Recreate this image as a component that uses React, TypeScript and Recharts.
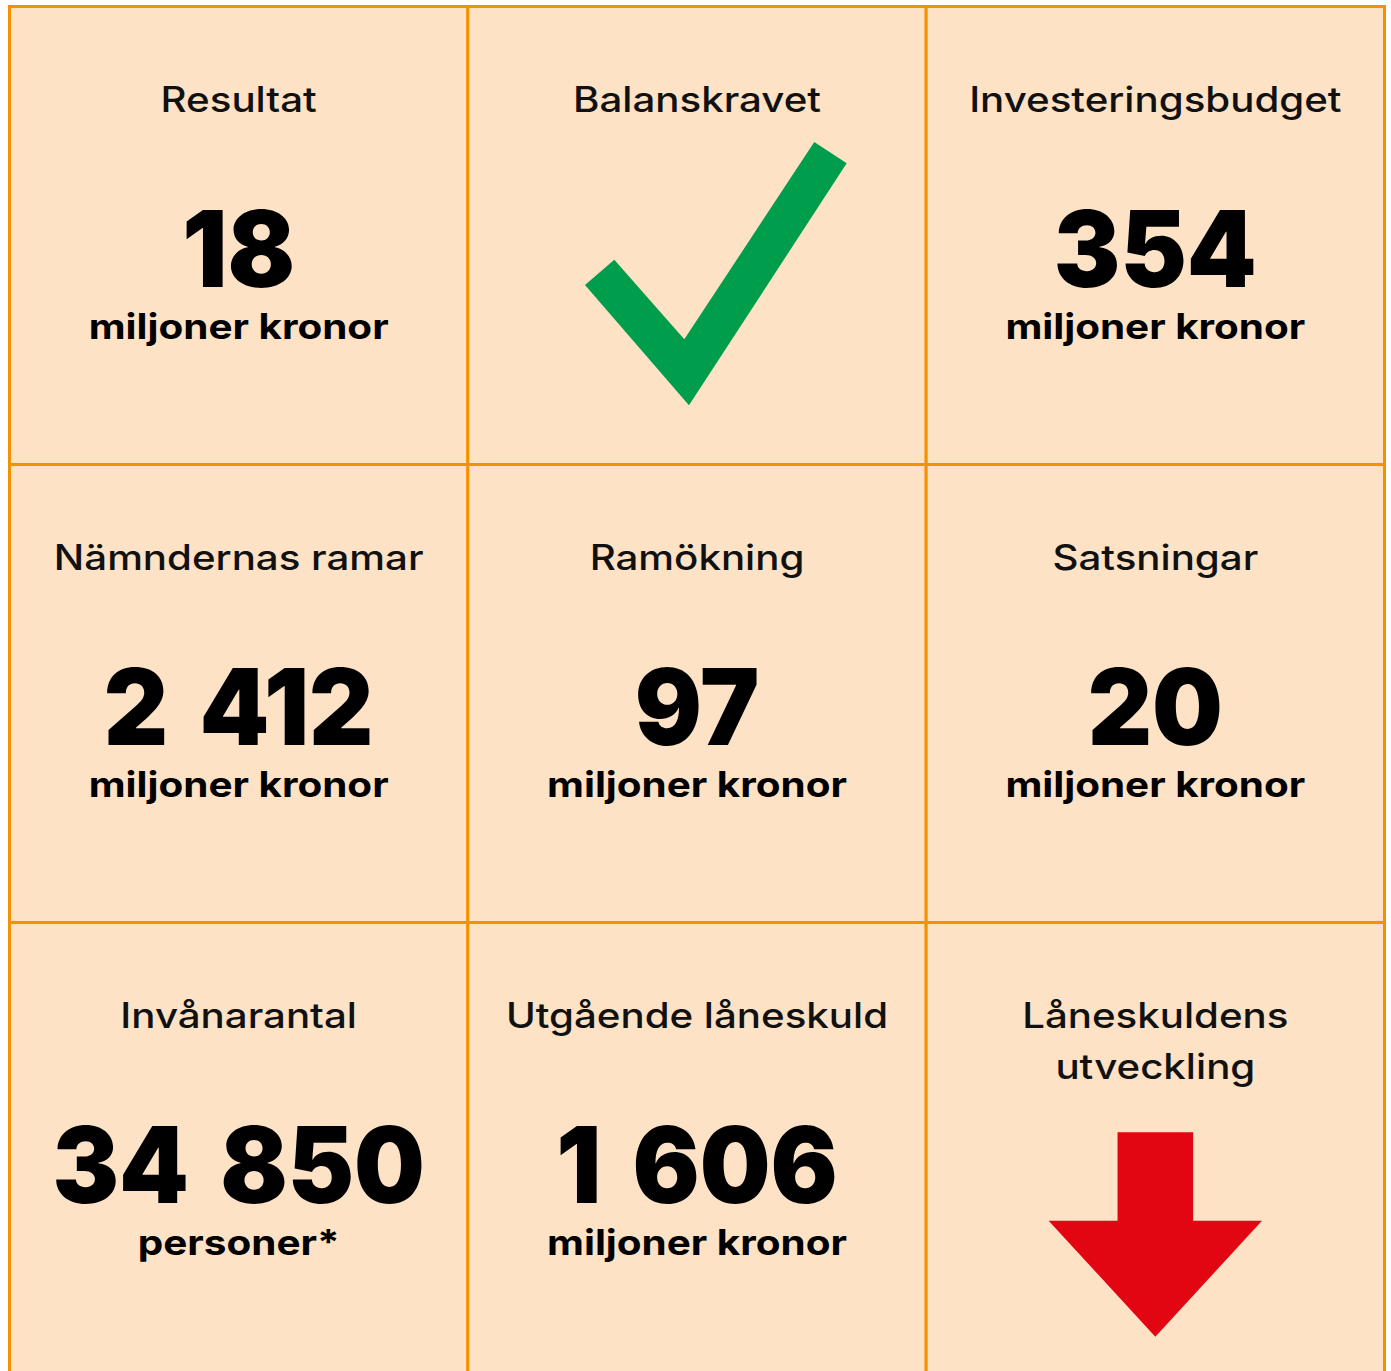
import React from "react";
import { ScatterChart, Scatter, XAxis, YAxis, ReferenceArea } from "recharts";

const titles: string[][] = [
  ["Resultat"],
  ["Balanskravet"],
  ["Investeringsbudget"],
  ["Nämndernas ramar"],
  ["Ramökning"],
  ["Satsningar"],
  ["Invånarantal"],
  ["Utgående låneskuld"],
  ["Låneskuldens", "utveckling"],
];
const values: (number | null)[] = [18, null, 354, 2412, 97, 20, 34850, 1606, null];
const units: string[] = [
  "miljoner kronor",
  "",
  "miljoner kronor",
  "miljoner kronor",
  "miljoner kronor",
  "miljoner kronor",
  "personer*",
  "miljoner kronor",
  "",
];
const icons: (string | null)[] = [null, "check", null, null, null, null, null, null, "down"];

const COLS = 3;
const W = 1391;
const H = 1384;
const MARGIN = { top: 6.5, right: 6.5, bottom: 3.5, left: 9.5 };
const CELL_W = (W - MARGIN.left - MARGIN.right) / COLS;
const CELL_H = (H - MARGIN.top - MARGIN.bottom) / COLS;

const FILL = "#FDE2C6";
const BORDER = "#F39200";
const GREEN = "#009E4C";
const RED = "#E20613";
const FONT = "Inter, 'Noto Sans', sans-serif";

const groups = (v: number) => String(v).replace(/\B(?=(\d{3})+(?!\d))/g, " ").split(" ");

const cells = titles.map((t, i) => ({
  x: (i % COLS) + 0.5,
  y: Math.floor(i / COLS) + 0.5,
  col: i % COLS,
  row: Math.floor(i / COLS),
  title: t,
  value: values[i],
  unit: units[i],
  icon: icons[i],
}));

// relative geometry (fractions of cell size)
const u = (fx: number, fy: number) => [fx * CELL_W, fy * CELL_H];

const CellContent = (props: any) => {
  const { cx, cy, payload } = props;
  if (cx == null || cy == null) return null;
  const p = payload;
  const titleY = cy - 0.2697 * CELL_H;
  const elems: React.ReactNode[] = [];
  p.title.forEach((line: string, k: number) => {
    elems.push(
      <text
        key={"t" + k}
        transform={`translate(${cx},${titleY + k * 51}) scale(1.15,1)`}
        textAnchor="middle"
        fontFamily={FONT}
        fontWeight={500}
        fontSize={35}
        fill="#111"
      >
        {line}
      </text>
    );
  });
  if (p.value != null) {
    const g = groups(p.value);
    elems.push(
      <text
        key="v"
        transform={`translate(${cx},${cy + 0.1114 * CELL_H}) scale(0.94,1)`}
        textAnchor="middle"
        fontFamily={FONT}
        fontWeight={900}
        fontSize={106}
        fill="#000"
      >
        {g.map((s: string, k: number) => (
          <tspan key={k} dx={k > 0 ? 12 : 0}>
            {k > 0 ? " " + s : s}
          </tspan>
        ))}
      </text>
    );
  }
  if (p.unit) {
    elems.push(
      <text
        key="u"
        transform={`translate(${cx},${cy + 0.2255 * CELL_H}) scale(1.155,1)`}
        textAnchor="middle"
        fontFamily={FONT}
        fontWeight={700}
        fontSize={35}
        fill="#000"
      >
        {p.unit}
      </text>
    );
  }
  if (p.icon === "check") {
    const pts = [
      u(-0.2444, 0.1081),
      u(-0.1804, 0.0528),
      u(-0.0277, 0.2266),
      u(0.2559, -0.2041),
      u(0.3266, -0.1576),
      u(-0.0175, 0.3707),
    ]
      .map(([a, b]) => `${cx + a},${cy + b}`)
      .join(" ");
    elems.push(<polygon key="c" points={pts} fill={GREEN} />);
  }
  if (p.icon === "down") {
    const pts = [
      u(-0.0825, -0.0419),
      u(0.0825, -0.0419),
      u(0.0825, 0.1511),
      u(0.2328, 0.1511),
      u(0.0, 0.4044),
      u(-0.2328, 0.1511),
      u(-0.0825, 0.1511),
    ]
      .map(([a, b]) => `${cx + a},${cy + b}`)
      .join(" ");
    elems.push(<polygon key="d" points={pts} fill={RED} />);
  }
  return <g>{elems}</g>;
};

export default function App() {
  return (
    <div
      style={{
        position: "absolute",
        left: 0,
        top: 0,
        width: W,
        height: 1371,
        overflow: "hidden",
        background: "#fff",
      }}
    >
      <ScatterChart width={W} height={H} margin={MARGIN}>
        <XAxis type="number" dataKey="x" domain={[0, 3]} hide />
        <YAxis type="number" dataKey="y" domain={[0, 3]} reversed hide />
        {cells.map((c, i) => (
          <ReferenceArea
            key={i}
            x1={c.col}
            x2={c.col + 1}
            y1={c.row}
            y2={c.row + 1}
            fill={FILL}
            fillOpacity={1}
            stroke={BORDER}
            strokeWidth={3}
            ifOverflow="visible"
          />
        ))}
        <Scatter data={cells} shape={CellContent} isAnimationActive={false} />
      </ScatterChart>
    </div>
  );
}
